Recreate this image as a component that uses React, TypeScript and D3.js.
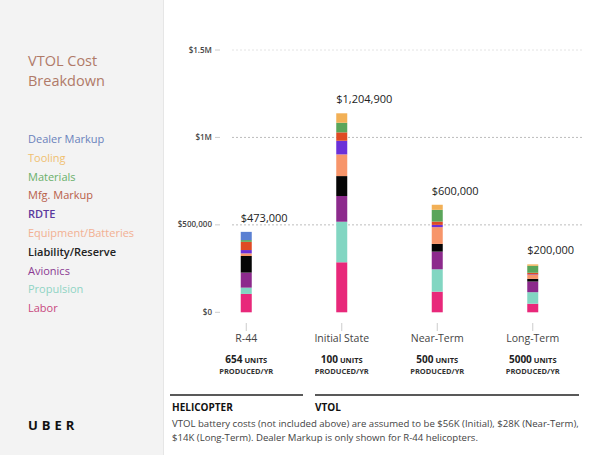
import * as d3 from 'd3'

// ─── Data ─────────────────────────────────────────────────────────────────────

const categories = ['R-44', 'Initial State', 'Near-Term', 'Long-Term']
const totalLabels = ['$473,000', '$1,204,900', '$600,000', '$200,000']
const unitCounts = ['654', '100', '500', '5000']

// stacked bottom → top, values in $K
const keys = [
  'Labor', 'Propulsion', 'Avionics', 'Liability/Reserve', 'Equipment/Batteries',
  'RDTE', 'Mfg. Markup', 'Materials', 'Tooling', 'Dealer Markup',
]
const labor = [105, 286, 118, 49]
const propulsion = [36, 232, 128, 66]
const avionics = [86, 147, 101, 61]
const liability = [95, 114, 44, 15]
const equipment = [15, 124, 96, 23]
const rdte = [19, 78, 13, 3]
const mfgMarkup = [47, 48, 19, 9]
const materials = [10, 55, 67, 40]
const tooling = [0, 54, 29, 8]
const dealerMarkup = [47, 0, 0, 0]

const seriesValues = [labor, propulsion, avionics, liability, equipment, rdte, mfgMarkup, materials, tooling, dealerMarkup]

const barColors = ['#e8287a', '#82d6c2', '#8c2a8c', '#050505', '#f7956a', '#6b30d8', '#df4a24', '#5aa55a', '#f2b056', '#5b80d2']
const legendColors = ['#c8487e', '#90d4c4', '#8a3a92', '#222222', '#f2b092', '#5a3a9e', '#b8604a', '#6ab06a', '#f0c070', '#6a82bc']

const yTicks = [0, 500, 1000, 1500]
const yTickLabels = ['$0', '$500,000', '$1M', '$1.5M']

const titleLines = ['VTOL Cost', 'Breakdown']

const FONT = '"Open Sans", "Noto Sans", sans-serif'

// ─── App ──────────────────────────────────────────────────────────────────────

export default function App() {
  const W = 600
  const H = 455

  const rows = categories.map((c, i) => {
    const r: Record<string, number | string> = { cat: c }
    keys.forEach((k, j) => { r[k] = seriesValues[j][i] })
    return r
  })
  const stacked = d3.stack<Record<string, number | string>>().keys(keys)(rows)

  const x = d3.scalePoint<string>().domain(categories).range([198.5, 580.5]).padding(0.5)
  const y = d3.scaleLinear().domain([0, 1500]).range([312.3, 50])
  const barW = 11

  const tops = categories.map((_, i) => y(d3.sum(seriesValues, (s) => s[i])))

  return (
    <div style={{ position: 'fixed', left: 0, top: 0 }}>
      <svg width={W} height={H} style={{ display: 'block', fontFamily: FONT }}>
        <rect width={W} height={H} fill="#fff" />
        {/* left panel */}
        <rect x={0} y={0} width={163} height={H} fill="#f3f3f3" />
        <line x1={163.5} x2={163.5} y1={0} y2={H} stroke="#e6e6e6" />

        {titleLines.map((t, i) => (
          <text key={t} x={28} y={66 + i * 19.5} fontSize={14.5} fill="#b07a68">{t}</text>
        ))}

        {keys.slice().reverse().map((k, i) => (
          <text key={k} x={28} y={143 + i * 18.8} fontSize={11}
            fill={legendColors[keys.length - 1 - i]}
            fontWeight={k === 'Liability/Reserve' || k === 'RDTE' ? 600 : 400}>
            {k}
          </text>
        ))}

        <text x={28} y={430} fontSize={13} fontWeight={700} letterSpacing={4} fill="#111">UBER</text>

        {/* grid lines */}
        {yTicks.filter((t) => t > 0).map((t) => (
          <line key={t} x1={232} x2={582} y1={y(t)} y2={y(t)}
            stroke={t === 1500 ? '#e4e4e4' : '#bdbdbd'} strokeDasharray="2,2" />
        ))}

        {/* y axis */}
        {yTicks.map((t, i) => (
          <g key={t} transform={`translate(0,${y(t)})`}>
            <line x1={215} x2={220} stroke="#ccc" />
            <text x={212} dy="0.32em" textAnchor="end" fontSize={8} fontWeight={600} fill="#444">
              {yTickLabels[i]}
            </text>
          </g>
        ))}

        {/* bars */}
        {stacked.map((s, j) => (
          <g key={s.key} fill={barColors[j]}>
            {s.map((d, i) => (
              <rect key={i} x={(x(categories[i]) ?? 0) - barW / 2} width={barW}
                y={y(d[1])} height={Math.max(0, y(d[0]) - y(d[1]))} />
            ))}
          </g>
        ))}

        {/* total labels */}
        {categories.map((c, i) => (
          <text key={c} x={(x(c) ?? 0) - barW / 2} y={tops[i] - 10} fontSize={11} fill="#222">
            {totalLabels[i]}
          </text>
        ))}

        {/* x axis */}
        {categories.map((c, i) => {
          const cx = x(c) ?? 0
          return (
            <g key={c}>
              <line x1={cx} x2={cx} y1={323} y2={331} stroke="#ccc" />
              <text x={cx} y={341.5} textAnchor="middle" fontSize={10.5} fill="#444">{c}</text>
              <text x={cx} y={363} textAnchor="middle" fontWeight={700} fill="#222">
                <tspan fontSize={10}>{unitCounts[i]}</tspan>
                <tspan fontSize={7.5}> UNITS</tspan>
              </text>
              <text x={cx} y={374} textAnchor="middle" fontSize={7.5} fontWeight={700} fill="#333">
                PRODUCED/YR
              </text>
            </g>
          )
        })}

        {/* group lines */}
        <line x1={170} x2={303} y1={395} y2={395} stroke="#222" strokeWidth={1.5} />
        <line x1={315} x2={579} y1={395} y2={395} stroke="#222" strokeWidth={1.5} />
        <text x={172} y={411} fontSize={10} fontWeight={700} fill="#111">HELICOPTER</text>
        <text x={315} y={411} fontSize={10} fontWeight={700} fill="#111">VTOL</text>

        {/* footnote */}
        <text x={172} y={427} fontSize={9.6} fill="#444">
          VTOL battery costs (not included above) are assumed to be $56K (Initial), $28K (Near-Term),
        </text>
        <text x={172} y={441} fontSize={9.6} fill="#444">
          $14K (Long-Term). Dealer Markup is only shown for R-44 helicopters.
        </text>
      </svg>
    </div>
  )
}
